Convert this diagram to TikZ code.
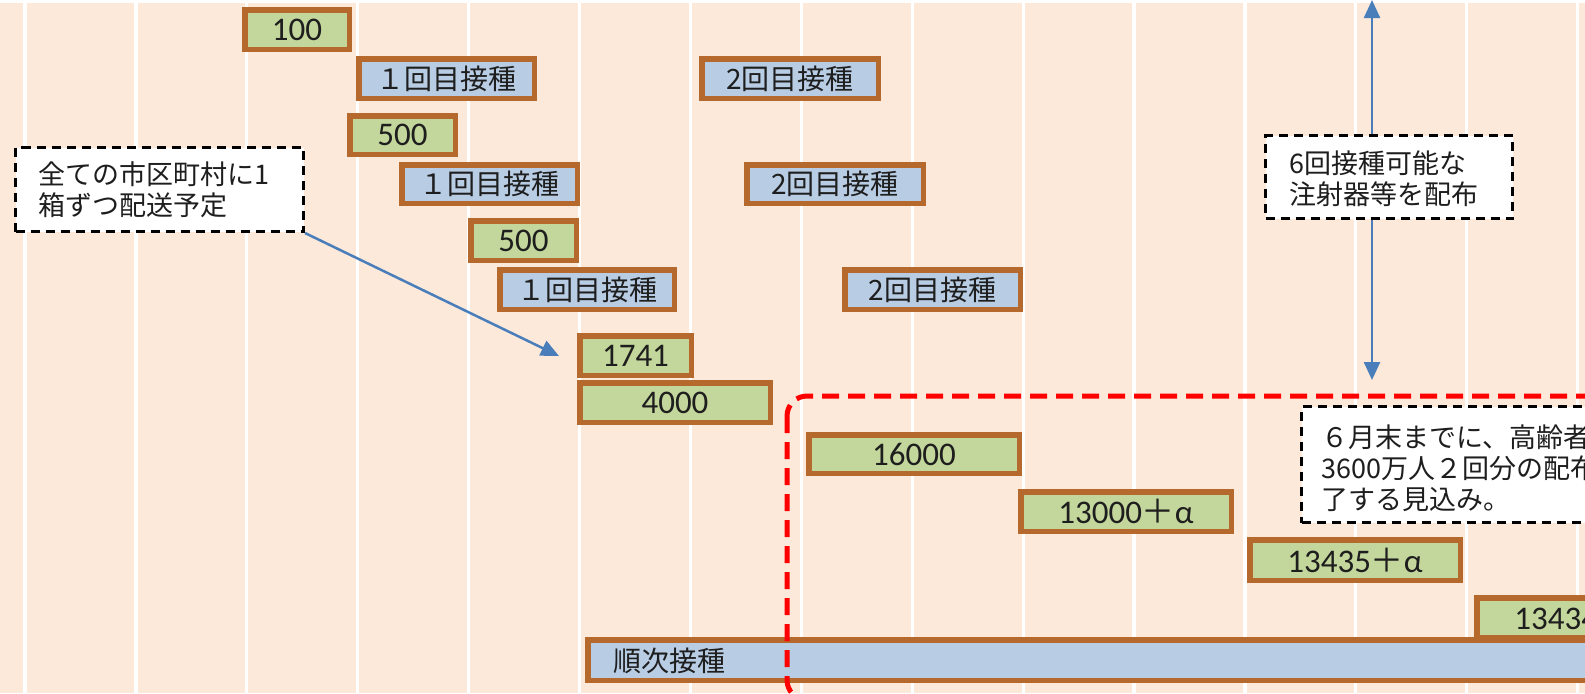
\documentclass[tikz,border=0pt]{standalone}
\usepackage{fontspec}
\setmainfont{Carlito}
\newfontfamily\jp{Noto Sans CJK JP}
\usetikzlibrary{arrows.meta}
\definecolor{bgc}{HTML}{FCE9DA}
\definecolor{brd}{HTML}{B5692D}
\definecolor{gfill}{HTML}{C3D69B}
\definecolor{bfill}{HTML}{B8CCE4}
\definecolor{arr}{HTML}{4A7EBB}
\definecolor{tx}{HTML}{1E1E1E}
\newcommand\mybox[7]{%
  \pgfmathsetmacro\mybw{(#5-#3-5.5)*0.5}%
  \pgfmathsetmacro\mybh{(#6-#4-5.5)*0.5}%
  \node[#1, minimum width=\mybw pt, minimum height=\mybh pt] (#2) at ({(#3+#5)/2},{(#4+#6)/2}) {#7};}
\newcommand\mycall[6]{%
  \pgfmathsetmacro\mybw{(#5-#3-3)*0.5}%
  \pgfmathsetmacro\mybh{(#6-#4-3)*0.5}%
  \node[#1, minimum width=\mybw pt, minimum height=\mybh pt] (#2) at ({(#3+#5)/2},{(#4+#6)/2}) {};}
\begin{document}
\begin{tikzpicture}[x=0.5pt,y=-0.5pt,
  gbox/.style={draw=brd, line width=2.75pt, fill=gfill, inner sep=0pt, text=tx, font=\fontsize{16.5}{18}\selectfont},
  bbox/.style={draw=brd, line width=2.75pt, fill=bfill, inner sep=0pt, text=tx, font=\jp\fontsize{14}{16}\selectfont},
  callbox/.style={draw=black, line width=1.5pt, dash pattern=on 4.5pt off 3pt, fill=white, inner sep=0pt},
  calltext/.style={align=left, inner sep=0pt, text=tx, font=\jp\fontsize{13.5}{15.5}\selectfont},
  grid/.style={white, line width=1.6pt},
  arrline/.style={arr, line width=1.25pt, -{Triangle[length=9pt,width=8pt]}}]
\useasboundingbox (0,0) rectangle (1585,693);
\clip (0,0) rectangle (1585,693);
\fill[bgc] (0,0) rectangle (1585,693);
\foreach \k in {0,...,14}{\draw[grid] ({25+110.9*\k},0) -- ({25+110.9*\k},693);}
\draw[grid] (0,1.5) -- (1585,1.5);
% boxes
\mybox{gbox}{b100}{242}{7}{352}{52}{100}
\mybox{bbox}{f1}{356}{56}{537}{101}{１回目接種}
\mybox{bbox}{s1}{699}{56}{881}{101}{2回目接種}
\mybox{gbox}{b500a}{347}{113}{458}{157}{500}
\mybox{bbox}{f2}{399}{162}{580}{206}{１回目接種}
\mybox{bbox}{s2}{744}{162}{926}{206}{2回目接種}
\mybox{gbox}{b500b}{468}{218}{579}{263}{500}
\mybox{bbox}{f3}{497}{267}{677}{312}{１回目接種}
\mybox{bbox}{s3}{842}{267}{1023}{312}{2回目接種}
\mybox{gbox}{b1741}{577}{333}{694}{378}{1741}
\mybox{gbox}{b4000}{577}{380}{773}{425}{4000}
\mybox{gbox}{b16000}{806}{432}{1022}{476}{16000}
\mybox{gbox}{b13000}{1018}{489}{1234}{534}{13000{\jp ＋}α}
\mybox{gbox}{b13435}{1247}{537}{1463}{583}{13435{\jp ＋}α}
\mybox{gbox}{b13434}{1474}{595}{1690}{640}{13434{\jp ＋}α}
\mybox{bbox}{seq}{585}{637}{1640}{683}{}
\node[calltext, font=\jp\fontsize{14}{16}\selectfont, anchor=west] (seqt) at (613,661) {順次接種};
% callouts
\mycall{callbox}{lc}{14}{146}{305}{233}
\node[calltext, anchor=west] (lct) at (38,190) {全ての市区町村に1\\箱ずつ配送予定};
\mycall{callbox}{rc}{1264}{134}{1514}{220}
\node[calltext, anchor=west] (rct) at (1289,179) {6回接種可能な\\注射器等を配布};
\mycall{callbox}{bc}{1300}{405}{1640}{524}
\node[calltext, anchor=west] (bct) at (1321,468) {６月末までに、高齢者約\\3600万人２回分の配布を完\\了する見込み。};
% arrows
\coordinate (lcend) at (559,356);
\draw[arrline] (lc.south east) -- (lcend);
\coordinate (vtop) at (1372,0);
\coordinate (vbot) at (1372,380);
\draw[arrline] (rc.north -| vtop) -- (vtop);
\draw[arrline] (rc.south -| vbot) -- (vbot);
% red dashed region
\draw[red, line width=2.5pt, dash pattern=on 8.5pt off 4.5pt, rounded corners=10pt] (787,396) rectangle (1650,700);
\end{tikzpicture}
\end{document}
